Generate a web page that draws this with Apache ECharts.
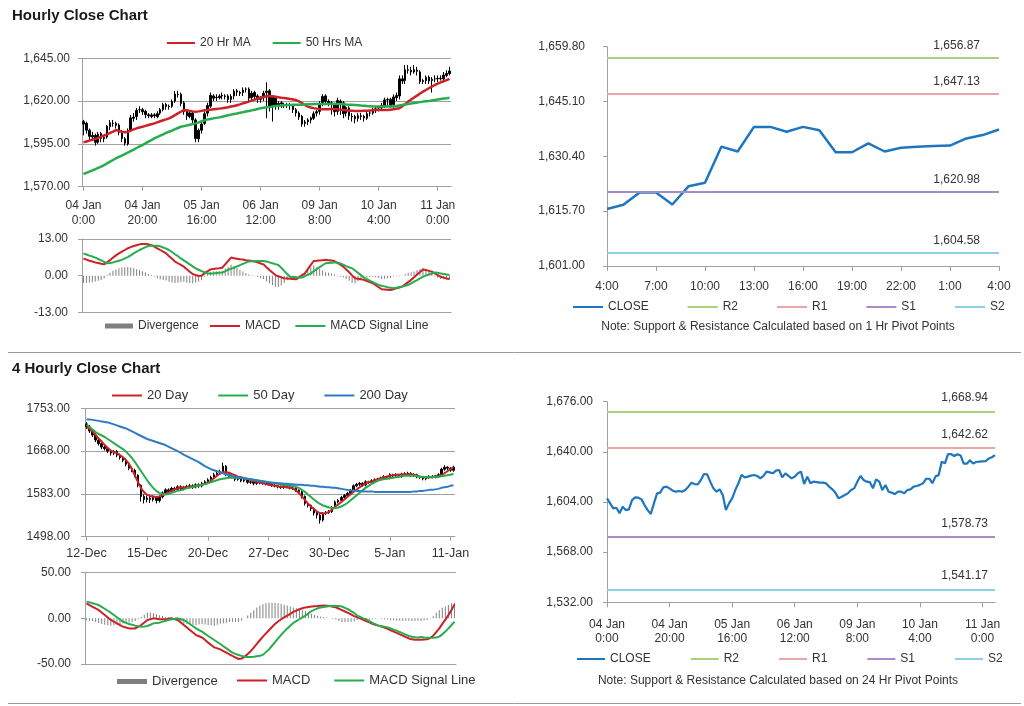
<!DOCTYPE html>
<html><head><meta charset="utf-8">
<script src="https://cdn.jsdelivr.net/npm/echarts@6/dist/echarts.min.js"></script>
<style>html,body{margin:0;padding:0;background:#fff}#c{width:1024px;height:706px}</style>
</head><body><div id="c"></div>
<script>
// ---------- hourly data (04 Jan 0:00 .. 11 Jan 4:00) ----------
const hourTicks = ['04 Jan\n0:00','04 Jan\n20:00','05 Jan\n16:00','06 Jan\n12:00','09 Jan\n8:00','10 Jan\n4:00','11 Jan\n0:00'];
const hourOpen = [1608,1607,1603,1599,1600,1596,1601,1598,1599,1605,
1607,1607,1606,1602,1598,1595,1603,1610,1611,1615,
1615,1614,1612,1611,1612,1611,1613,1615,1618,1617,
1617,1620,1624,1624,1619,1614,1611,1613,1609,1598,
1603,1607,1613,1617,1623,1622,1622,1623,1623,1623,
1621,1623,1626,1625,1625,1627,1627,1622,1625,1623,
1621,1622,1625,1626,1617,1622,1617,1619,1618,1618,
1618,1617,1615,1613,1611,1607,1608,1609,1610,1613,
1614,1619,1623,1620,1619,1618,1614,1620,1619,1613,
1616,1611,1611,1610,1611,1611,1610,1613,1613,1615,
1616,1616,1617,1621,1621,1618,1622,1623,1633,1632,
1638,1638,1637,1638,1637,1632,1632,1634,1632,1633,
1633,1633,1633,1635,1636];
const hourClose = [1606.6,1603.0,1599.4,1599.9,1595.9,1600.6,1598.2,1598.7,1605.4,1607.3,
1607.1,1605.9,1601.8,1598.2,1595.4,1603.0,1610.2,1610.7,1614.5,1615.0,
1613.8,1612.1,1611.4,1611.9,1611.4,1612.6,1615.0,1617.9,1616.9,1616.7,
1619.8,1624.1,1623.9,1618.6,1613.8,1611.4,1613.1,1609.0,1598.2,1603.0,
1606.6,1612.6,1617.4,1623.4,1621.7,1622.2,1622.9,1623.4,1622.7,1621.0,
1622.7,1625.8,1625.3,1624.6,1626.5,1627.0,1621.7,1624.6,1622.7,1621.0,
1622.2,1624.6,1625.8,1616.9,1622.2,1617.4,1618.6,1618.3,1617.9,1617.9,
1617.4,1615.0,1613.1,1610.7,1606.6,1607.8,1609.0,1610.2,1612.6,1613.8,
1618.6,1622.7,1619.8,1618.6,1618.3,1613.8,1620.3,1618.6,1612.6,1616.2,
1611.4,1610.7,1609.7,1611.4,1611.4,1610.2,1612.6,1613.1,1615.0,1615.5,
1616.3,1617.4,1620.7,1620.7,1617.5,1622.4,1623.3,1633.0,1631.7,1638.3,
1638.3,1637.0,1638.3,1637.4,1631.5,1631.5,1633.9,1631.7,1632.7,1633.0,
1633.2,1633.3,1635.2,1636.1,1637.6];
const hourHigh = [1609,1608,1604,1602,1601,1602,1602,1600,1606,1609,
1609,1608,1607,1603,1599,1604,1612,1613,1616,1617,
1616,1615,1613,1613,1613,1614,1616,1619,1619,1618,
1621,1626,1626,1625,1620,1615,1614,1614,1610,1604,
1608,1614,1619,1625,1624,1624,1624,1625,1624,1624,
1624,1627,1627,1626,1628,1628,1628,1626,1626,1624,
1623,1626,1631,1627,1623,1623,1620,1620,1619,1619,
1619,1618,1616,1614,1612,1609,1610,1611,1614,1615,
1620,1624,1624,1621,1620,1619,1622,1621,1620,1617,
1617,1613,1612,1613,1613,1612,1614,1614,1616,1617,
1617,1619,1622,1622,1622,1624,1625,1635,1635,1641,
1641,1640,1641,1640,1638,1633,1635,1635,1634,1635,
1635,1635,1637,1638,1640];
const hourLow = [1600,1601,1597,1597,1594,1595,1596,1596,1598,1603,
1605,1604,1600,1596,1594,1594,1602,1608,1609,1613,
1612,1610,1610,1610,1610,1610,1612,1614,1615,1615,
1616,1619,1622,1617,1612,1609,1610,1607,1596,1596,
1601,1606,1611,1616,1620,1620,1621,1621,1621,1619,
1619,1621,1623,1623,1623,1625,1620,1620,1621,1619,
1619,1620,1610,1614,1608,1615,1615,1616,1616,1616,
1615,1613,1611,1609,1605,1605,1606,1607,1609,1611,
1612,1617,1618,1617,1612,1611,1612,1612,1610,1611,
1609,1608,1607,1608,1609,1608,1609,1611,1612,1613,
1614,1615,1616,1617,1616,1616,1620,1621,1630,1630,
1636,1635,1636,1635,1630,1630,1630,1630,1625,1631,
1631,1632,1632,1634,1635];
const hourMA20 = [1595.9,1596.4,1596.9,1597.4,1597.9,1598.5,1599.2,1599.9,1600.6,1601.4,
1602.2,1603.1,1602.6,1602.1,1601.8,1602.1,1602.8,1603.5,1604.1,1604.6,
1605.0,1605.5,1606.0,1606.5,1607.0,1607.6,1608.2,1608.8,1609.3,1609.9,
1610.8,1611.8,1612.8,1613.8,1614.8,1614.6,1614.3,1614.0,1613.8,1614.0,
1614.3,1614.6,1614.8,1615.0,1615.2,1615.4,1615.6,1615.8,1616.1,1616.4,
1616.8,1617.1,1617.6,1618.1,1618.7,1619.2,1619.7,1620.3,1620.9,1621.5,
1622.0,1622.4,1622.8,1623.0,1622.9,1622.6,1622.3,1622.0,1621.8,1621.5,
1621.2,1620.9,1620.6,1619.8,1618.9,1617.8,1616.8,1616.3,1615.9,1615.6,
1615.4,1615.2,1615.2,1615.3,1615.4,1615.4,1615.2,1615.0,1614.8,1614.6,
1614.4,1614.3,1614.2,1614.2,1614.2,1614.3,1614.4,1614.5,1614.6,1614.8,
1614.8,1614.8,1614.8,1614.8,1615.0,1615.2,1615.5,1615.8,1617.0,1618.3,
1619.7,1620.9,1622.1,1623.2,1624.4,1625.5,1626.5,1627.5,1628.5,1629.4,
1630.2,1630.9,1631.6,1632.3,1633.0];
const hourMA50 = [1577.4,1578.1,1578.8,1579.5,1580.2,1581.0,1581.7,1582.6,1583.6,1584.6,
1585.6,1586.6,1587.4,1588.2,1589.0,1589.9,1590.8,1591.7,1592.6,1593.5,
1594.3,1595.3,1596.3,1597.2,1598.2,1599.0,1599.8,1600.6,1601.4,1602.1,
1602.8,1603.6,1604.3,1605.0,1605.4,1605.8,1606.2,1606.6,1607.0,1607.6,
1608.2,1608.8,1609.3,1609.6,1609.9,1610.2,1610.5,1610.9,1611.3,1611.7,
1612.1,1612.5,1612.8,1613.2,1613.5,1613.9,1614.2,1614.6,1615.0,1615.4,
1615.8,1616.1,1616.4,1616.6,1616.9,1617.1,1617.3,1617.4,1617.6,1617.7,
1617.7,1617.8,1617.8,1617.9,1617.9,1618.0,1618.1,1618.2,1618.3,1618.3,
1618.3,1618.3,1618.3,1618.3,1618.3,1618.3,1618.3,1618.3,1618.2,1618.0,
1617.9,1617.8,1617.7,1617.6,1617.4,1617.3,1617.1,1617.0,1616.9,1616.9,
1616.8,1616.8,1616.8,1616.8,1616.8,1616.8,1617.1,1617.4,1617.7,1618.0,
1618.3,1618.6,1618.9,1619.1,1619.4,1619.7,1619.9,1620.1,1620.4,1620.6,
1620.9,1621.2,1621.5,1621.7,1622.0];
const hourMacd = [6.1,5.7,5.3,5.0,4.7,4.5,4.2,4.0,4.7,5.5,
6.4,7.2,7.9,8.5,9.1,9.7,10.1,10.5,10.8,11.1,
11.2,11.2,11.1,10.8,10.3,9.7,9.1,8.5,7.9,6.9,
6.0,5.0,4.4,3.8,3.2,2.3,1.4,0.6,0.2,-0.1,
0.0,0.8,1.5,2.2,2.4,2.5,2.6,2.8,4.0,5.2,
6.4,6.2,6.0,5.8,5.7,5.5,5.4,5.2,5.0,4.7,
4.3,4.0,3.0,2.0,1.1,0.2,-0.2,-0.6,-0.9,-1.0,
-1.1,-1.2,-1.3,-0.6,0.1,0.8,2.3,3.8,5.2,5.3,
5.4,5.5,5.6,5.5,5.4,5.2,4.5,3.9,3.2,2.2,
1.2,0.1,-0.9,-1.1,-1.3,-1.5,-1.9,-2.3,-2.7,-3.4,
-4.1,-4.8,-4.9,-5.0,-5.1,-4.8,-4.5,-4.2,-3.9,-3.1,
-2.3,-1.5,-0.6,0.4,1.3,2.2,2.0,1.7,1.4,0.8,
0.2,-0.4,-0.7,-1.0,-1.2];
const hourSignal = [7.9,7.5,7.1,6.8,6.4,5.9,5.4,4.9,4.4,4.5,
4.7,5.0,5.3,5.6,6.1,6.6,7.2,7.9,8.5,9.1,
9.6,10.1,10.5,10.6,10.6,10.6,10.4,10.0,9.6,9.1,
8.4,7.6,6.9,6.1,5.4,4.7,4.0,3.3,2.6,2.1,
1.6,1.2,0.8,0.8,0.8,0.9,1.0,1.1,1.5,2.1,
2.5,2.8,3.3,3.7,4.2,4.6,5.0,5.1,5.1,5.2,
5.2,5.2,5.0,4.7,4.4,4.1,3.8,2.8,1.7,0.6,
-0.4,-0.5,-0.6,-0.7,-0.7,-0.2,0.3,0.8,1.6,2.3,
3.0,3.7,4.4,4.5,4.6,4.7,4.7,4.3,3.9,3.4,
3.0,2.6,1.8,1.0,0.2,-0.7,-1.2,-1.8,-2.3,-2.8,
-3.3,-3.6,-3.8,-4.1,-4.3,-4.5,-4.3,-4.0,-3.8,-3.6,
-3.3,-2.7,-2.1,-1.6,-1.0,-0.4,0.0,0.4,0.7,1.1,
1.0,0.8,0.6,0.4,0.2];
const hourDiv = [-2.6,-2.5,-2.4,-2.3,-2.1,-1.8,-1.5,-1.0,0.3,1.0,
1.7,2.2,2.6,2.9,3.0,3.1,2.9,2.6,2.3,2.0,
1.6,1.1,0.6,0.2,-0.3,-0.9,-1.3,-1.5,-1.7,-2.2,
-2.4,-2.6,-2.5,-2.3,-2.2,-2.4,-2.6,-2.7,-2.4,-2.2,
-1.6,-0.4,0.7,1.4,1.6,1.6,1.6,1.7,2.5,3.1,
3.9,3.4,2.7,2.1,1.5,0.9,0.4,0.1,-0.1,-0.5,
-0.9,-1.2,-2.0,-2.7,-3.3,-3.9,-4.0,-3.4,-2.6,-1.6,
-0.7,-0.7,-0.7,0.1,0.8,1.0,2.0,3.0,3.6,3.0,
2.4,1.8,1.2,1.0,0.8,0.5,-0.2,-0.4,-0.7,-1.2,
-1.8,-2.5,-2.7,-2.1,-1.5,-0.8,-0.7,-0.5,-0.4,-0.6,
-0.8,-1.2,-1.1,-0.9,-0.8,-0.3,-0.2,-0.2,-0.1,0.5,
1.0,1.2,1.5,2.0,2.3,2.6,2.0,1.3,0.7,-0.3,
-0.8,-1.2,-1.3,-1.4,-1.4];

// last 25 hours chart (10 Jan 4:00 .. 11 Jan 4:00)
const lastHourLabels = ['4:00','5:00','6:00','7:00','8:00','9:00','10:00','11:00','12:00','13:00','14:00','15:00','16:00','17:00','18:00','19:00','20:00','21:00','22:00','23:00','0:00','1:00','2:00','3:00','4:00'];
const pivot1h = {R2: 1656.87, R1: 1647.13, S1: 1620.98, S2: 1604.58};
const pivot24h = {R2: 1668.94, R1: 1642.62, S1: 1578.73, S2: 1541.17};

// ---------- 4-hourly data (12 Dec .. 11 Jan) ----------
const dayTicks = ['12-Dec','15-Dec','20-Dec','27-Dec','30-Dec','5-Jan','11-Jan'];
const h4Open = [1722,1716,1708,1700,1690,1683,1676,1673,1668,1664,
1667,1660,1655,1650,1642,1634,1630,1620,1600,1578,
1572,1575,1572,1576,1570,1577,1585,1591,1588,1594,
1592,1597,1593,1596,1598,1599,1597,1601,1599,1604,
1607,1611,1616,1621,1624,1627,1638,1621,1618,1617,
1612,1614,1609,1611,1606,1607,1604,1607,1605,1606,
1603,1604,1600,1599,1597,1596,1599,1597,1595,1594,
1590,1587,1578,1564,1560,1554,1545,1541,1531,1544,
1546,1548,1556,1567,1570,1576,1580,1584,1590,1599,
1602,1604,1601,1607,1606,1609,1611,1612,1614,1617,
1615,1621,1619,1621,1618,1622,1623,1624,1620,1621,
1617,1616,1613,1616,1618,1617,1619,1621,1632,1636,
1634,1630];
const h4Close = [1716,1708,1700,1690,1683,1676,1673,1668,1664,1667,
1660,1655,1650,1642,1634,1630,1620,1600,1578,1572,
1575,1572,1576,1570,1577,1585,1591,1588,1594,1592,
1597,1593,1596,1598,1599,1597,1601,1599,1604,1607,
1611,1616,1621,1624,1627,1638,1621,1618,1617,1612,
1614,1609,1611,1606,1607,1604,1607,1605,1606,1603,
1604,1600,1599,1597,1596,1599,1597,1595,1594,1590,
1587,1578,1564,1560,1554,1545,1541,1531,1544,1546,
1548,1556,1567,1570,1576,1580,1584,1590,1599,1602,
1604,1601,1607,1606,1609,1611,1612,1614,1617,1615,
1621,1619,1621,1618,1622,1623,1624,1620,1621,1617,
1616,1613,1616,1618,1617,1619,1621,1632,1636,1634,
1630,1636];
const h4High = [1726,1720,1712,1703,1694,1686,1679,1676,1671,1670,
1670,1663,1658,1653,1645,1637,1633,1622,1602,1582,
1580,1580,1580,1579,1580,1588,1594,1594,1597,1597,
1600,1600,1599,1601,1603,1602,1604,1604,1607,1610,
1614,1619,1625,1627,1631,1645,1640,1624,1621,1620,
1617,1616,1614,1613,1610,1609,1610,1609,1609,1608,
1607,1606,1603,1601,1600,1602,1601,1599,1598,1596,
1592,1590,1580,1567,1562,1556,1548,1543,1547,1549,
1551,1559,1570,1573,1579,1583,1587,1593,1602,1605,
1607,1606,1610,1609,1612,1614,1615,1617,1620,1619,
1624,1623,1624,1623,1625,1626,1627,1626,1624,1623,
1619,1618,1618,1620,1620,1621,1624,1635,1640,1638,
1636,1639];
const h4Low = [1712,1704,1696,1686,1679,1672,1669,1664,1659,1660,
1656,1651,1646,1638,1630,1626,1616,1596,1568,1564,
1566,1565,1568,1564,1566,1574,1582,1585,1585,1588,
1589,1589,1590,1593,1595,1593,1594,1595,1596,1601,
1604,1608,1613,1618,1621,1624,1618,1615,1614,1608,
1609,1606,1606,1603,1603,1600,1601,1602,1601,1600,
1600,1597,1596,1594,1593,1593,1594,1592,1591,1587,
1583,1574,1560,1556,1549,1540,1534,1524,1528,1541,
1543,1545,1553,1564,1567,1572,1577,1581,1587,1596,
1599,1597,1598,1603,1603,1606,1608,1609,1611,1612,
1612,1616,1616,1615,1615,1619,1620,1617,1617,1614,
1613,1610,1610,1613,1614,1614,1616,1618,1629,1630,
1627,1627];
const h4MA20 = [1716,1712,1707,1700,1693,1687,1680,1674,1669,1666,
1664,1660,1656,1650,1643,1632,1619,1606,1594,1586,
1581,1579,1578,1577,1578,1580,1583,1586,1589,1592,
1594,1595,1596,1596,1597,1597,1598,1599,1601,1603,
1605,1609,1614,1619,1623,1626,1626,1625,1622,1620,
1617,1616,1614,1612,1611,1609,1607,1606,1604,1603,
1601,1600,1599,1598,1597,1597,1596,1595,1594,1590,
1585,1578,1571,1564,1558,1553,1548,1545,1544,1545,
1548,1552,1558,1562,1567,1572,1577,1582,1587,1591,
1596,1600,1604,1606,1607,1610,1612,1614,1616,1617,
1619,1620,1621,1621,1622,1622,1622,1622,1621,1619,
1617,1616,1616,1616,1616,1617,1617,1620,1624,1628,
1632,1636];
const h4MA50 = [1721,1716,1711,1706,1702,1699,1696,1692,1688,1684,
1680,1676,1672,1667,1661,1654,1646,1637,1628,1619,
1610,1602,1595,1589,1585,1583,1582,1583,1585,1587,
1589,1590,1592,1594,1595,1597,1598,1600,1601,1602,
1604,1606,1608,1610,1612,1613,1614,1615,1615,1615,
1615,1614,1614,1613,1612,1611,1610,1609,1608,1607,
1606,1605,1604,1603,1602,1601,1600,1599,1598,1597,
1595,1591,1587,1582,1577,1572,1567,1563,1560,1558,
1556,1555,1555,1556,1558,1561,1565,1570,1575,1580,
1585,1590,1595,1599,1603,1606,1609,1611,1612,1613,
1614,1615,1616,1617,1618,1619,1619,1619,1619,1618,
1617,1617,1616,1616,1616,1617,1617,1618,1619,1620,
1621,1623];
const h4MA200 = [1731,1731,1730,1729,1728,1727,1726,1725,1723,1721,
1719,1717,1715,1713,1710,1707,1704,1701,1698,1695,
1692,1690,1688,1686,1684,1682,1680,1677,1674,1671,
1668,1665,1661,1658,1655,1652,1649,1646,1642,1638,
1635,1632,1630,1628,1626,1624,1622,1620,1618,1617,
1616,1615,1614,1613,1612,1611,1610,1609,1608,1607,
1606,1605,1605,1604,1604,1603,1603,1602,1602,1601,
1601,1601,1600,1600,1599,1599,1598,1597,1597,1596,
1596,1595,1595,1594,1593,1592,1591,1590,1590,1589,
1589,1588,1588,1588,1588,1587,1587,1587,1587,1587,
1587,1587,1587,1587,1587,1587,1587,1587,1588,1588,
1589,1589,1590,1591,1591,1592,1593,1595,1596,1597,
1599,1600];
const h4Macd = [16.4,14.5,12.7,10.9,9.1,6.4,3.6,0.9,-1.8,-3.6,
-5.5,-7.3,-9.1,-10.1,-11.0,-11.2,-11.0,-9.2,-7.3,-4.6,
-1.8,-0.9,0.0,-0.5,-1.1,-1.1,-1.1,-0.5,0.0,-0.9,
-1.8,-4.5,-7.3,-10.0,-12.8,-15.5,-18.3,-19.6,-21.0,-23.8,
-26.6,-29.2,-31.8,-32.9,-34.0,-35.8,-37.6,-39.4,-41.2,-42.9,
-44.5,-44.0,-42.0,-39.0,-36.0,-32.0,-28.0,-24.0,-20.0,-16.5,
-13.0,-9.5,-6.0,-3.5,-1.0,1.0,3.0,5.0,7.0,8.5,
10.0,11.0,12.0,12.5,13.0,13.3,13.5,13.8,14.0,13.8,
13.5,12.8,12.0,10.5,9.0,7.5,6.0,4.3,2.5,1.2,
0.0,-1.5,-3.0,-4.5,-6.0,-7.0,-8.0,-9.0,-10.0,-11.5,
-13.0,-14.5,-16.0,-17.5,-19.0,-20.5,-22.0,-23.0,-23.5,-23.5,
-23.5,-23.3,-23.0,-21.5,-19.0,-15.0,-11.0,-6.0,-1.5,3.5,
9.0,15.3];
const h4Signal = [18.3,17.5,16.6,15.6,14.6,12.6,10.5,8.3,6.2,3.7,
1.2,-1.2,-3.7,-5.0,-6.2,-7.1,-8.0,-8.6,-9.1,-8.8,
-8.4,-7.0,-5.5,-5.1,-4.7,-3.6,-2.6,-1.8,-1.1,-0.5,
0.0,-0.9,-1.8,-4.0,-6.2,-8.6,-11.0,-12.8,-14.6,-17.0,
-19.3,-21.5,-23.7,-25.9,-28.1,-30.5,-32.9,-35.3,-37.6,-38.9,
-40.2,-41.1,-42.0,-42.2,-42.2,-42.0,-41.5,-41.0,-40.0,-37.0,
-34.0,-30.0,-26.0,-22.0,-18.0,-14.5,-11.0,-8.0,-5.0,-3.0,
-1.0,1.0,3.0,5.5,8.0,9.5,11.0,11.8,12.5,13.0,
13.5,13.5,13.5,13.4,13.0,11.5,10.0,8.0,6.0,3.0,
1.5,0.0,-1.0,-3.0,-5.0,-6.5,-8.0,-8.6,-9.1,-10.0,
-11.0,-12.3,-13.5,-15.0,-16.4,-17.9,-19.3,-20.1,-20.8,-21.0,
-20.5,-21.0,-21.2,-21.3,-21.3,-21.0,-20.0,-17.5,-14.5,-11.0,
-7.5,-3.7];
const h4Div = [-2,-2.5,-3,-4,-5,-6,-7,-7.5,-8,-7.5,
-7,-6.5,-5.5,-5,-4.5,-4,-3,-1,1.5,4,
6.5,6.5,5.5,4.5,3.5,2.5,1.5,1.3,1.1,-0.4,
-1.8,-3.6,-5.5,-6,-6.6,-6.9,-7.3,-6.8,-6.4,-6.8,
-7.3,-7.7,-8.1,-7,-5.9,-5.3,-4.7,-4.1,-3.6,-4,
-4,-2.5,0,3,6,9,12,14,15.5,16.5,
17,17,17,16.5,16,15,14,13,12,11,
10,9,8,6.5,5,3.8,2.5,2,1.5,0.8,
0,-0.7,-1.5,-2.9,-4,-4,-4,-3.7,-3.5,-1.8,
-1.5,-1.5,-2,-1.5,-1,-0.5,0,-0.4,-0.9,-1.5,
-2,-2.2,-2.5,-2.5,-2.6,-2.6,-2.7,-2.9,-2.7,-2.5,
-3,-2.3,-1.8,-0.2,2.3,6,9,11.5,13,14.5,
16.5,17];

// ---------- helpers ----------
const FF = '"Liberation Sans", Arial, sans-serif';
const TXT = '#333';
const AX = '#a0a0a0';
const RED = '#cc2127', GREEN = '#27ad4e', BLUE200 = '#2f7cc3', CLOSEC = '#1f76c0', GRAY = '#7f7f7f';
const PIVC = {R2: '#abd07e', R1: '#e9a8a8', S1: '#a78cc9', S2: '#8dd0e2'};
function fmt(v, comma) {
  const s = Number(v).toFixed(2);
  if (!comma) return s;
  const p = s.split('.');
  return p[0].replace(/\B(?=(\d{3})+(?!\d))/g, ',') + '.' + p[1];
}
const hourIdx = hourClose.map((_, i) => String(i));
const h4Idx = h4Close.map((_, i) => String(i));
const hourCandles = hourClose.map((c, i) => [hourOpen[i], c, hourLow[i], hourHigh[i]]);
const h4Candles = h4Close.map((c, i) => [h4Open[i], c, h4Low[i], h4High[i]]);
const every20 = (i) => i % 20 === 0;
const lbl = (o) => Object.assign({color: TXT, fontSize: 12, fontFamily: FF}, o);
const line = {show: true, lineStyle: {color: AX, width: 1}};

function catAxis(grid, data, opts) {
  return Object.assign({type: 'category', gridIndex: grid, data: data,
    axisLine: {show: true, onZero: false, lineStyle: {color: AX, width: 1}},
    splitLine: {show: false}}, opts);
}
function valAxis(grid, min, max, interval, comma, margin, split) {
  return {type: 'value', gridIndex: grid, min: min, max: max, interval: interval, scale: false,
    axisLine: line, axisTick: {show: true, length: 4, lineStyle: {color: AX}},
    axisLabel: lbl({formatter: v => fmt(v, comma), margin: margin}),
    splitLine: split};
}
const gridSplit = {show: true, lineStyle: {color: AX, width: 1}};
const macdSplit = {show: true, lineStyle: {color: [AX, 'rgba(0,0,0,0)', AX], width: 1}};

function pivotSeries(name, value, xi, dist) {
  return {type: 'line', name: name, xAxisIndex: xi, yAxisIndex: xi, data: [],
    color: PIVC[name], lineStyle: {color: PIVC[name], width: 1.5}, symbol: 'none',
    markLine: {silent: true, symbol: ['none', 'none'], animation: false,
      lineStyle: {color: PIVC[name], width: 1.8, type: 'solid'},
      label: {show: true, position: 'insideEndTop', distance: dist, color: TXT, fontSize: 12, fontFamily: FF,
        formatter: () => fmt(value, true)},
      data: [{yAxis: value}]}};
}
const lineS = (name, xi, data, color, w) => ({type: 'line', name: name, xAxisIndex: xi, yAxisIndex: xi, data: data,
  symbol: 'none', color: color, lineStyle: {color: color, width: w}});
const items = (names) => names.map(n => ({name: n, icon: 'rect'}));

const option = {
  animation: false,
  textStyle: {fontFamily: FF},
  grid: [
    {left: 82, top: 58.3, width: 369, height: 128.4},
    {left: 82, top: 239, width: 369, height: 73.3},
    {left: 607, top: 46.7, width: 392, height: 219.3},
    {left: 85, top: 408.3, width: 370, height: 128.4},
    {left: 85, top: 572.7, width: 371, height: 91.3},
    {left: 607, top: 401.7, width: 388, height: 200.6}
  ],
  xAxis: [
    catAxis(0, hourIdx, {boundaryGap: true,
      axisTick: {show: true, alignWithLabel: true, interval: every20, length: 4, lineStyle: {color: AX}},
      axisLabel: lbl({interval: every20, formatter: (v, i) => hourTicks[i / 20], margin: 11, lineHeight: 15})}),
    catAxis(1, hourIdx, {boundaryGap: true, axisTick: {show: false}, axisLabel: {show: false}}),
    catAxis(2, lastHourLabels, {boundaryGap: false,
      axisTick: {show: true, interval: 2, length: 5, lineStyle: {color: AX}},
      axisLabel: lbl({interval: 2, margin: 15})}),
    catAxis(3, h4Idx, {boundaryGap: true,
      axisTick: {show: true, alignWithLabel: true, interval: every20, length: 4, lineStyle: {color: AX}},
      axisLabel: lbl({interval: every20, formatter: (v, i) => dayTicks[i / 20], margin: 10, fontSize: 12.5})}),
    catAxis(4, h4Idx, {boundaryGap: true, axisTick: {show: false}, axisLabel: {show: false}}),
    catAxis(5, hourIdx, {boundaryGap: false,
      axisTick: {show: true, interval: every20, length: 5, lineStyle: {color: AX}},
      axisLabel: lbl({interval: every20, formatter: (v, i) => hourTicks[i / 20], margin: 15, lineHeight: 14})})
  ],
  yAxis: [
    valAxis(0, 1570, 1645, 25, true, 12, gridSplit),
    valAxis(1, -13, 13, 13, false, 14, macdSplit),
    valAxis(2, 1601, 1659.8, 14.7, true, 22, {show: false}),
    valAxis(3, 1498, 1753, 85, false, 15, gridSplit),
    valAxis(4, -50, 50, 50, false, 14, macdSplit),
    valAxis(5, 1532, 1676, 36, true, 14, {show: false})
  ],
  legend: [
    {data: items(['20 Hr MA', '50 Hrs MA']), left: 167, top: 37, padding: 0, itemWidth: 28, itemHeight: 2, itemGap: 22,
      textStyle: lbl({})},
    {data: items(['Divergence']), left: 105, top: 320, padding: 0, itemWidth: 28, itemHeight: 5,
      textStyle: lbl({})},
    {data: items(['MACD', 'MACD Signal Line']), left: 210, top: 320, padding: 0, itemWidth: 30, itemHeight: 2, itemGap: 15,
      textStyle: lbl({})},
    {data: items(['CLOSE', 'R2', 'R1', 'S1', 'S2']), left: 573, top: 301, padding: 0, itemWidth: 30, itemHeight: 2, itemGap: 39,
      textStyle: lbl({})},
    {data: items(['20 Day', '50 Day', '200 Day']), left: 112, top: 389, padding: 0, itemWidth: 30, itemHeight: 2, itemGap: 30,
      textStyle: lbl({fontSize: 13})},
    {data: items(['Divergence']), left: 117, top: 675, padding: 0, itemWidth: 30, itemHeight: 5,
      textStyle: lbl({fontSize: 13})},
    {data: items(['MACD', 'MACD Signal Line']), left: 237, top: 674, padding: 0, itemWidth: 30, itemHeight: 2, itemGap: 24,
      textStyle: lbl({fontSize: 13})},
    {data: items(['CLOSE', 'R2', 'R1', 'S1', 'S2']), left: 577, top: 653, padding: 0, itemWidth: 28, itemHeight: 2, itemGap: 40,
      textStyle: lbl({})}
  ],
  graphic: [
    {type: 'text', left: 12, top: 8, style: {text: 'Hourly Close Chart', font: 'bold 15px ' + FF, fill: '#1a1a1a'}},
    {type: 'text', left: 12, top: 361, style: {text: '4 Hourly Close Chart', font: 'bold 15px ' + FF, fill: '#1a1a1a'}},
    {type: 'text', x: 778, y: 327, style: {text: 'Note: Support & Resistance Calculated based on 1 Hr Pivot Points',
      font: '12px ' + FF, fill: TXT, align: 'center', verticalAlign: 'middle'}},
    {type: 'text', x: 778, y: 681, style: {text: 'Note: Support & Resistance Calculated based on 24 Hr Pivot Points',
      font: '12px ' + FF, fill: TXT, align: 'center', verticalAlign: 'middle'}},
    {type: 'line', shape: {x1: 8, y1: 352.5, x2: 1021, y2: 352.5}, style: {stroke: '#9a9a9a', lineWidth: 1}},
    {type: 'line', shape: {x1: 8, y1: 703.5, x2: 1021, y2: 703.5}, style: {stroke: '#9a9a9a', lineWidth: 1}}
  ],
  series: [
    {type: 'candlestick', name: 'Hourly', xAxisIndex: 0, yAxisIndex: 0, data: hourCandles, barWidth: 2,
      itemStyle: {color: '#000', color0: '#000', borderColor: '#000', borderColor0: '#000', borderWidth: 1}},
    lineS('20 Hr MA', 0, hourMA20, RED, 2.5),
    lineS('50 Hrs MA', 0, hourMA50, GREEN, 2.5),
    {type: 'bar', name: 'Divergence', xAxisIndex: 1, yAxisIndex: 1, data: hourDiv, barWidth: 1, color: GRAY,
      itemStyle: {color: GRAY}},
    lineS('MACD', 1, hourMacd, RED, 2),
    lineS('MACD Signal Line', 1, hourSignal, GREEN, 2),
    lineS('CLOSE', 2, hourClose.slice(100), CLOSEC, 2.5),
    pivotSeries('R2', pivot1h.R2, 2, [19, 6]),
    pivotSeries('R1', pivot1h.R1, 2, [19, 6]),
    pivotSeries('S1', pivot1h.S1, 2, [19, 6]),
    pivotSeries('S2', pivot1h.S2, 2, [19, 6]),
    {type: 'candlestick', name: '4 Hourly', xAxisIndex: 3, yAxisIndex: 3, data: h4Candles, barWidth: 2,
      itemStyle: {color: '#000', color0: '#000', borderColor: '#000', borderColor0: '#000', borderWidth: 1}},
    lineS('20 Day', 3, h4MA20, RED, 2),
    lineS('50 Day', 3, h4MA50, GREEN, 2),
    lineS('200 Day', 3, h4MA200, BLUE200, 2),
    {type: 'bar', name: 'Divergence', xAxisIndex: 4, yAxisIndex: 4, data: h4Div, barWidth: 1, color: GRAY,
      itemStyle: {color: GRAY}},
    lineS('MACD', 4, h4Macd, RED, 2),
    lineS('MACD Signal Line', 4, h4Signal, GREEN, 2),
    lineS('CLOSE', 5, hourClose, CLOSEC, 2.2),
    pivotSeries('R2', pivot24h.R2, 5, [7, 8]),
    pivotSeries('R1', pivot24h.R1, 5, [7, 8]),
    pivotSeries('S1', pivot24h.S1, 5, [7, 8]),
    pivotSeries('S2', pivot24h.S2, 5, [7, 8])
  ]
};
const chart = echarts.init(document.getElementById('c'), null, {renderer: 'canvas'});
chart.setOption(option);
</script>
</body></html>
